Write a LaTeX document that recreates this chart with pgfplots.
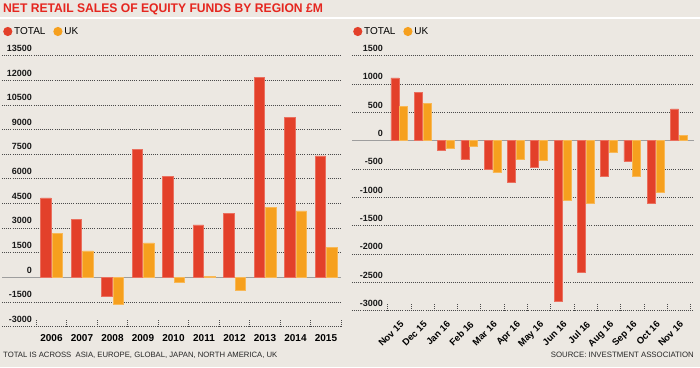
\documentclass[border=0pt]{standalone}
\usepackage{fontspec}
\setmainfont{Liberation Sans}
\usepackage{pgfplots}
\pgfplotsset{compat=1.18}
\definecolor{bg}{HTML}{ECE8E2}
\definecolor{totc}{HTML}{E3402A}
\definecolor{ukc}{HTML}{F6A01E}
\definecolor{titc}{HTML}{E5261F}
\definecolor{gridc}{HTML}{4A4A4A}
\pgfplotsset{
 mybase/.style={
  scale only axis, anchor=south west,
  axis line style={draw=none},
  ymajorgrids,
  scaled y ticks=false,
  grid style={gridc, line width=0.8pt, dash pattern=on 0.8pt off 1.3pt},
  ytick style={draw=none}, major x tick style={draw=none},
  xtick pos=lower, tick align=inside, minor tick length=8pt,
  minor x tick style={gridc, line width=0.8pt, dash pattern=on 0.8pt off 1.3pt},
  /pgf/number format/assume math mode=true,
  /pgf/number format/set thousands separator={},
  yticklabel style={font=\bfseries\fontsize{9}{9}\selectfont, inner sep=0pt, anchor=south east, text=black!90},
  extra y ticks={0},
  extra y tick style={grid style={solid, draw=black!38, line width=1.3pt}},
  legend columns=2,
  legend style={draw=none, fill=none, font=\fontsize{10}{10}\selectfont, inner sep=0pt,
     nodes={inner sep=1.8pt}, /tikz/every even column/.append style={column sep=6pt}},
  legend image code/.code={\fill[#1,draw=none] (0pt,0pt) circle (4.6pt);},
 }
}
\begin{document}
\begin{tikzpicture}
\useasboundingbox (0,0) rectangle (700pt,367pt);
\fill[bg] (0,0) rectangle (700pt,367pt);
\fill[white] (0,347.5pt) rectangle (700pt,349.5pt);
\node[anchor=base west, inner sep=0, text=titc, font=\bfseries\fontsize{12.5}{12.5}\selectfont] at (3pt,354.3pt) {\scalebox{0.97}[1]{NET RETAIL SALES OF EQUITY FUNDS BY REGION £M}};
\node[anchor=base west, inner sep=0, font=\fontsize{7.7}{7.7}\selectfont, text=black!85] at (3pt,9.7pt) {TOTAL IS ACROSS\ \ ASIA, EUROPE, GLOBAL, JAPAN, NORTH AMERICA, UK};
\node[anchor=base east, inner sep=0, font=\fontsize{7.8}{7.8}\selectfont, text=black!85] at (694pt,9.7pt) {SOURCE: INVESTMENT ASSOCIATION};

% left panel
\begin{axis}[mybase, at={(2pt,40.3pt)}, width=339.25pt, height=271pt,
  xmin=-1.623, xmax=9.5, ymin=-3000, ymax=13500,
  ytick={-3000,-1500,1500,3000,4500,6000,7500,9000,10500,12000,13500},
  yticklabel style={xshift=30pt, yshift=4pt},
  xtick={0,...,9}, xticklabels={2006,2007,2008,2009,2010,2011,2012,2013,2014,2015},
  minor xtick={-0.5,0.5,...,9.5},
  xticklabel style={font=\bfseries\fontsize{10}{10}\selectfont, inner sep=0pt, anchor=north, yshift=-7.6pt},
  legend style={at={(0,1)}, anchor=west, xshift=1pt, yshift=24.2pt},
]
\addplot[ybar, fill=totc, draw=totc!75!white, line width=0.5pt, bar width=10.5pt, bar shift=-5.75pt]
 coordinates {(0,4850) (1,3550) (2,-1150) (3,7800) (4,6150) (5,3200) (6,3900) (7,12200) (8,9750) (9,7400)};
\addplot[ybar, fill=ukc, draw=ukc!75!white, line width=0.5pt, bar width=10.5pt, bar shift=5.75pt]
 coordinates {(0,2700) (1,1620) (2,-1650) (3,2100) (4,-290) (5,50) (6,-800) (7,4250) (8,4050) (9,1850)};
\legend{TOTAL,UK}
\end{axis}

% right panel
\begin{axis}[mybase, at={(352pt,56.3pt)}, width=342pt, height=255pt,
  xmin=-2.03, xmax=12.648, ymin=-3000, ymax=1500,
  ytick={-3000,-2500,-2000,-1500,-1000,-500,500,1000,1500},
  yticklabel style={xshift=31pt, yshift=4pt},
  xtick={0,...,12}, xticklabels={Nov 15,Dec 15,Jan 16,Feb 16,Mar 16,Apr 16,May 16,Jun 16,Jul 16,Aug 16,Sep 16,Oct 16,Nov 16},
  minor xtick={-0.5,0.5,...,12.5},
  xticklabel style={font=\bfseries\fontsize{9.4}{9.4}\selectfont, inner sep=0pt, anchor=north east, rotate=45, xshift=-6.5pt, yshift=-7pt},
  legend style={at={(0,1)}, anchor=west, xshift=1pt, yshift=24.2pt},
]
\addplot[ybar, fill=totc, draw=totc!75!white, line width=0.5pt, bar width=8pt, bar shift=-4.4pt]
 coordinates {(0,1110) (1,850) (2,-165) (3,-330) (4,-500) (5,-740) (6,-470) (7,-2830) (8,-2320) (9,-620) (10,-365) (11,-1095) (12,560)};
\addplot[ybar, fill=ukc, draw=ukc!75!white, line width=0.5pt, bar width=8pt, bar shift=4.4pt]
 coordinates {(0,600) (1,660) (2,-135) (3,-95) (4,-565) (5,-330) (6,-342) (7,-1048) (8,-1095) (9,-206) (10,-636) (11,-903) (12,100)};
\legend{TOTAL,UK}
\end{axis}
\end{tikzpicture}
\end{document}
